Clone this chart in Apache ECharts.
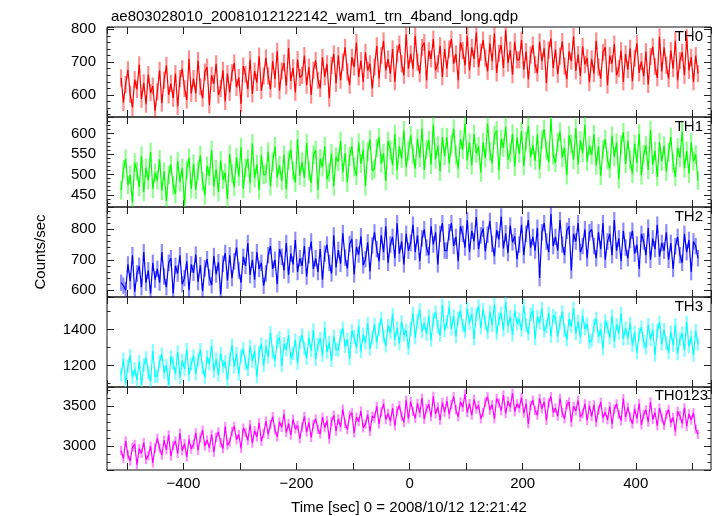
<!DOCTYPE html>
<html>
<head>
<meta charset="utf-8">
<script src="https://cdn.jsdelivr.net/npm/echarts@6/dist/echarts.min.js"></script>
<style>
html,body{margin:0;padding:0;background:#fff;}
#chart{width:717px;height:516px;}
</style>
</head>
<body>
<div id="chart"></div>
<script>
// ---- data ----
const chartTitle = 'ae803028010_20081012122142_wam1_trn_4band_long.qdp';
const xAxisName = 'Time [sec] 0 = 2008/10/12 12:21:42';
const yAxisName = 'Counts/sec';
const bandNames = ['TH0', 'TH1', 'TH2', 'TH3', 'TH0123'];
const binStart = -510;   // centre of first time bin (s)
const binWidth = 4;      // bin width (s)

const th0 = [
652,577,632,677,602,562,647,617,692,587,637,572,662,607,627,552,
610,675,575,645,690,600,635,590,665,565,650,680,620,585,710,605,
650,605,705,625,590,670,685,570,660,635,695,600,620,675,580,665,
608,668,698,623,653,573,688,663,618,708,603,673,638,718,613,658,
713,658,618,703,648,733,613,673,698,628,743,643,683,608,708,653,
660,720,630,685,600,675,705,645,620,715,655,695,590,690,725,635,
720,645,700,745,670,630,715,685,760,655,705,640,730,675,695,620,
685,750,650,720,765,675,710,665,740,640,725,755,695,660,785,680,
725,680,780,700,665,745,760,645,735,710,770,675,695,750,655,740,
680,740,770,695,725,645,760,735,690,780,675,745,710,790,685,730,
767,712,672,757,702,787,667,727,752,682,797,697,737,662,762,707,
707,767,677,732,647,722,752,692,667,762,702,742,637,737,772,682,
738,663,718,763,688,648,733,703,778,673,723,658,748,693,713,638,
710,665,765,685,650,730,745,630,720,695,755,660,680,735,640,725,
677,742,642,712,757,667,702,657,732,632,717,747,687,652,777,672,
745,690,650,735,680,765,645,705,730,660,775,675,715,640,720,665
];
const th1 = [
461,512,538,474,499,431,529,508,469,546,457,516,486,555,465,504,
486,537,460,507,435,499,524,473,452,533,481,516,426,511,541,464,
526,462,509,547,483,449,521,496,560,470,513,457,534,487,504,440,
550,503,469,542,495,567,465,516,538,478,576,491,525,461,546,499,
501,556,471,531,569,492,522,484,548,463,535,561,509,480,586,497,
531,492,577,509,479,548,560,462,539,518,569,488,505,552,471,543,
531,582,505,552,480,544,569,518,497,578,526,561,471,556,586,509,
514,565,591,527,552,484,582,561,522,599,510,569,539,608,518,557,
596,549,515,588,541,613,511,562,584,524,622,537,571,507,592,545,
591,527,574,612,548,514,586,561,625,535,578,522,599,552,569,505,
579,540,625,557,527,596,608,510,587,566,617,536,553,600,519,591,
551,606,521,581,619,542,572,534,598,513,585,611,559,530,636,547,
528,579,605,541,566,498,596,575,536,613,524,583,553,622,532,571,
548,599,522,569,497,561,586,535,514,595,543,578,488,573,603,526,
583,536,502,575,528,600,498,549,571,511,609,524,558,494,579,532,
571,507,554,592,528,494,566,541,605,515,558,502,579,532,549,485
];
const th2 = [
625,615,600,685,630,715,595,655,680,610,725,625,665,590,690,635,
670,625,725,645,610,690,705,590,680,655,715,620,640,695,600,685,
657,717,627,682,597,672,702,642,617,712,652,692,587,687,722,632,
715,640,695,740,665,625,710,680,755,650,700,635,725,670,690,615,
655,715,745,670,700,620,735,710,665,755,650,720,685,765,660,705,
680,745,645,715,760,670,705,660,735,635,720,750,690,655,780,675,
732,687,787,707,672,752,767,652,742,717,777,682,702,757,662,747,
790,735,695,780,725,810,690,750,775,705,820,720,760,685,785,730,
755,815,725,780,695,770,800,740,715,810,750,790,685,785,820,730,
730,790,820,745,775,695,810,785,740,830,725,795,760,840,735,780,
802,727,782,827,752,712,797,767,842,737,787,722,812,757,777,702,
750,815,715,785,830,740,775,730,805,640,790,820,760,725,850,745,
775,730,830,750,715,795,810,665,785,760,820,725,745,800,705,790,
800,745,705,790,735,820,700,760,785,715,830,730,770,695,795,740,
705,765,795,720,750,670,785,760,715,805,700,770,735,815,710,755,
730,790,700,755,670,745,775,715,690,785,725,765,660,760,745,705
];
const th3 = [
1148,1236,1101,1195,1256,1135,1182,1121,1222,1095,1202,1243,1161,1114,1283,1141,
1141,1222,1263,1161,1202,1094,1249,1215,1155,1276,1134,1229,1181,1290,1148,1209,
1255,1154,1229,1289,1188,1134,1249,1208,1310,1168,1235,1147,1269,1195,1222,1120,
1233,1314,1193,1267,1152,1254,1294,1213,1179,1308,1226,1280,1139,1274,1321,1200,
1309,1248,1383,1275,1227,1335,1356,1200,1322,1288,1369,1241,1268,1342,1214,1329,
1371,1296,1242,1357,1283,1398,1236,1317,1350,1256,1411,1276,1330,1229,1364,1290,
1286,1367,1408,1306,1347,1239,1394,1360,1300,1421,1279,1374,1326,1435,1293,1354,
1430,1329,1404,1464,1363,1309,1424,1383,1485,1343,1410,1322,1444,1370,1397,1295,
1403,1491,1356,1450,1511,1390,1437,1376,1477,1342,1457,1498,1416,1369,1538,1396,
1443,1524,1403,1477,1362,1464,1504,1423,1389,1518,1436,1490,1349,1484,1531,1410,
1513,1438,1384,1499,1425,1540,1378,1459,1492,1398,1553,1418,1472,1371,1506,1432,
1459,1398,1533,1425,1377,1485,1506,1350,1472,1438,1519,1391,1418,1492,1364,1479,
1465,1364,1439,1499,1398,1344,1459,1418,1520,1378,1445,1357,1479,1405,1432,1330,
1341,1422,1463,1361,1402,1294,1449,1415,1355,1476,1334,1429,1381,1490,1348,1409,
1353,1434,1313,1387,1272,1374,1414,1333,1299,1428,1346,1400,1259,1394,1441,1320,
1401,1326,1272,1387,1313,1428,1266,1347,1380,1286,1441,1306,1360,1259,1394,1320
];
const th0123 = [
2947,2848,3068,2892,2815,2991,3024,2771,2969,2914,3046,2837,2881,3002,2793,2980,
3099,2978,2890,3077,2956,3143,2879,3011,3066,2912,3165,2945,3033,2868,3088,2967,
3026,3169,2949,3103,3202,3004,3081,2982,3147,2927,3114,3180,3048,2971,3246,3015,
3052,3184,3250,3085,3151,2975,3228,3173,3074,3272,3041,3195,3118,3294,3063,3162,
3316,3151,3272,3371,3206,3118,3305,3239,3404,3173,3283,3140,3338,3217,3261,3096,
3244,3376,3178,3299,3112,3277,3343,3211,3156,3365,3233,3321,3090,3310,3387,3189,
3342,3243,3463,3287,3210,3386,3419,3166,3364,3309,3441,3232,3276,3397,3188,3375,
3356,3499,3279,3433,3532,3334,3411,3312,3477,3257,3444,3510,3378,3301,3576,3345,
3559,3438,3350,3537,3416,3603,3339,3471,3526,3372,3625,3405,3493,3328,3548,3427,
3566,3401,3522,3621,3456,3368,3555,3489,3654,3423,3533,3390,3588,3467,3511,3346,
3422,3554,3620,3455,3521,3345,3598,3543,3444,3642,3411,3565,3488,3664,3433,3532,
3479,3611,3413,3534,3280,3512,3578,3446,3391,3600,3468,3556,3325,3545,3622,3424,
3477,3378,3598,3422,3345,3521,3554,3301,3499,3444,3576,3367,3411,3532,3323,3510,
3376,3519,3299,3453,3552,3354,3431,3332,3497,3277,3464,3530,3398,3321,3596,3365,
3489,3368,3280,3467,3346,3533,3269,3401,3456,3302,3555,3335,3423,3258,3478,3357,
3262,3394,3460,3295,3361,3185,3438,3383,3284,3482,3251,3405,3328,3420,3215,3150
];
const bandErrors = [26, 23, 27, 37, 58];   // typical 1-sigma error (counts/sec)
const xRange = [-535, 533];
const yRanges = [[533, 807], [420, 641], [578, 873], [1081, 1582], [2704, 3742]];

// ---- styling / layout ----
const series = [th0, th1, th2, th3, th0123];
const colors = ['#ff0000', '#00ff00', '#0000ff', '#00ffff', '#ff00ff'];
const errColors = ['rgba(255,0,0,0.45)', 'rgba(0,255,0,0.45)', 'rgba(0,0,255,0.45)', 'rgba(0,255,255,0.5)', 'rgba(255,0,255,0.45)'];
const ySplit = [3, 4, 3, 3, 2];
const yMinorSplit = [5, 5, 5, 2, 5];
const tops = [27, 117, 207, 297, 387];
const panelH = 90;
const FONT = "'Liberation Sans', Arial, Helvetica, sans-serif";
const FS = 15;

function fmtX(v) {
  if (Math.abs(v % 200) > 1e-6) return '';
  return v < 0 ? '\u2212' + Math.abs(v) : String(v);
}

const grids = [], xAxes = [], yAxes = [], seriesOpts = [], graphics = [];
series.forEach((vals, i) => {
  grids.push({left: 107, right: 6, top: tops[i], height: panelH, show: true,
    borderColor: '#111', borderWidth: 1, backgroundColor: 'transparent'});
  const last = i === series.length - 1;
  const tickCommon = {show: true, inside: true, length: 7, lineStyle: {color: '#222', width: 1}};
  xAxes.push({type: 'value', gridIndex: i, position: 'bottom', min: xRange[0], max: xRange[1],
    splitNumber: 10, axisLine: {show: false, onZero: false}, axisTick: tickCommon, splitLine: {show: false},
    axisLabel: {show: last, formatter: fmtX, color: '#000', fontSize: FS, fontFamily: FONT, margin: 6,
      showMinLabel: false, showMaxLabel: false},
    name: last ? xAxisName : '', nameLocation: 'middle', nameGap: 30,
    nameTextStyle: {color: '#000', fontSize: FS, fontFamily: FONT}});
  xAxes.push({type: 'value', gridIndex: i, position: 'top', min: xRange[0], max: xRange[1],
    splitNumber: 10, axisLine: {show: false, onZero: false}, axisTick: tickCommon, splitLine: {show: false},
    axisLabel: {show: false}});
  const yTick = {show: true, inside: true, length: 7, lineStyle: {color: '#222', width: 1}};
  const yMinor = {show: true, splitNumber: yMinorSplit[i], length: 3.5, lineStyle: {color: '#222', width: 1}};
  yAxes.push({type: 'value', gridIndex: i, position: 'left', min: yRanges[i][0], max: yRanges[i][1],
    splitNumber: ySplit[i], axisLine: {show: false, onZero: false}, axisTick: yTick, minorTick: yMinor,
    splitLine: {show: false}, minorSplitLine: {show: false},
    axisLabel: {color: '#000', fontSize: FS, fontFamily: FONT, margin: 11, showMinLabel: false, showMaxLabel: false,
      formatter: v => String(v)}});
  yAxes.push({type: 'value', gridIndex: i, position: 'right', min: yRanges[i][0], max: yRanges[i][1],
    splitNumber: ySplit[i], axisLine: {show: false, onZero: false}, axisTick: yTick, minorTick: yMinor,
    splitLine: {show: false}, minorSplitLine: {show: false}, axisLabel: {show: false}});

  const pts = vals.map((v, k) => [binStart + k * binWidth, v]);
  const err = bandErrors[i];
  seriesOpts.push({type: 'custom', xAxisIndex: 2 * i, yAxisIndex: 2 * i, data: pts, clip: true,
    silent: true, animation: false,
    renderItem: (params, api) => {
      const t = api.value(0), v = api.value(1);
      const lo = api.coord([t, v - err]);
      const hi = api.coord([t, v + err]);
      return {type: 'line', shape: {x1: lo[0], y1: lo[1], x2: hi[0], y2: hi[1]},
        style: {stroke: errColors[i], lineWidth: 2.2}};
    }});
  seriesOpts.push({type: 'line', xAxisIndex: 2 * i, yAxisIndex: 2 * i, data: pts, showSymbol: false,
    symbol: 'none', silent: true, animation: false, clip: true,
    lineStyle: {color: colors[i], width: 1.2}});
  graphics.push({type: 'text', right: last ? 9 : 14, top: tops[i] + (last ? 1 : 2),
    style: {text: bandNames[i], fill: '#000', font: FS + 'px ' + FONT}});
});

graphics.push({type: 'text', x: 41, y: 252, rotation: Math.PI / 2,
  style: {text: yAxisName, fill: '#000', font: FS + 'px ' + FONT, textAlign: 'center', textVerticalAlign: 'middle'}});

const chart = echarts.init(document.getElementById('chart'), null, {renderer: 'canvas'});
chart.setOption({
  backgroundColor: '#fff',
  animation: false,
  title: {text: chartTitle, left: 106, top: 4, textStyle: {color: '#000', fontSize: FS, fontWeight: 'normal', fontFamily: FONT}},
  grid: grids,
  xAxis: xAxes,
  yAxis: yAxes,
  series: seriesOpts,
  graphic: graphics
});
</script>
</body>
</html>
